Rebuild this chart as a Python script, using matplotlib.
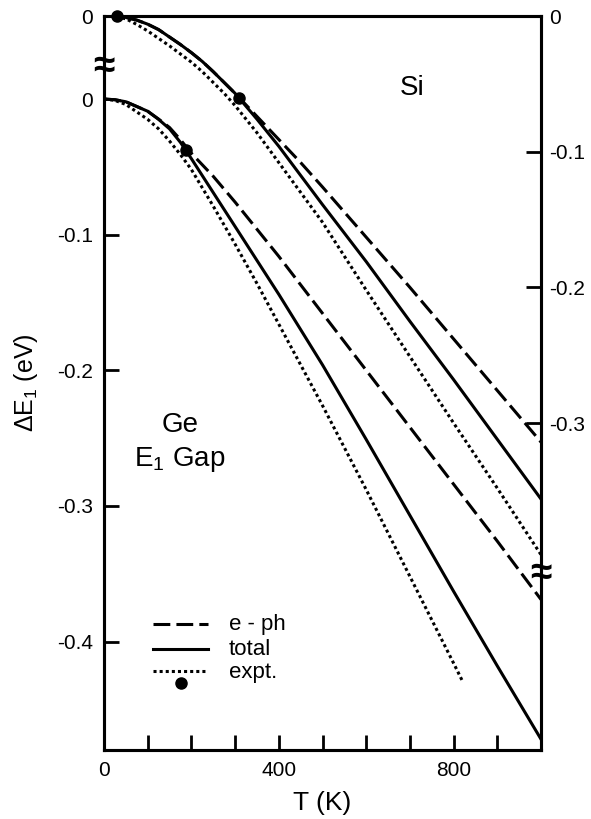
import numpy as np
import matplotlib.pyplot as plt

plt.rcParams['font.family'] = ['Liberation Sans', 'DejaVu Sans']
plt.rcParams['mathtext.fontset'] = 'custom'
plt.rcParams['mathtext.rm'] = 'Liberation Sans'
plt.rcParams['mathtext.it'] = 'Liberation Sans:italic'

# Ge, E1 gap (left axis, eV)
T_ge = [0, 25, 50, 75, 100, 125, 150, 175, 200, 250, 300, 350, 400, 450, 500,
        600, 700, 800, 900, 1000]
ge_eph = [0, -0.0005, -0.002, -0.0055, -0.009, -0.0148, -0.021, -0.030, -0.040, -0.057,
          -0.076, -0.096, -0.116, -0.137, -0.158, -0.200, -0.242, -0.284, -0.326, -0.369]
ge_total = [0, -0.0005, -0.002, -0.0055, -0.009, -0.015, -0.022, -0.032, -0.044, -0.069,
            -0.094, -0.119, -0.144, -0.170, -0.196, -0.251, -0.307, -0.363, -0.418, -0.472]
T_ge_expt = [0, 25, 50, 75, 100, 125, 150, 175, 200, 250, 300, 350, 400, 450, 500,
             550, 600, 650, 700, 750, 800, 820]
ge_expt = [0, -0.001, -0.004, -0.0095, -0.015, -0.022, -0.031, -0.041, -0.052, -0.079,
           -0.107, -0.136, -0.166, -0.196, -0.226, -0.257, -0.288, -0.320, -0.352,
           -0.384, -0.416, -0.429]
ge_dot_T = [187]
ge_dot_E = [-0.0377]

# Si (right axis, eV)
T_si = [0, 25, 50, 75, 100, 125, 150, 175, 200, 225, 250, 275, 300, 350, 400, 450,
        500, 600, 700, 800, 900, 1000]
si_eph = [0, 0, -0.001, -0.003, -0.006, -0.010, -0.0155, -0.021, -0.027, -0.0335,
          -0.041, -0.049, -0.057, -0.074, -0.091, -0.108, -0.126, -0.163, -0.200,
          -0.238, -0.276, -0.314]
si_total = [0, 0, -0.001, -0.003, -0.006, -0.010, -0.0155, -0.021, -0.027, -0.0335,
            -0.041, -0.049, -0.057, -0.076, -0.096, -0.1175, -0.139, -0.181, -0.225,
            -0.268, -0.312, -0.356]
si_expt = [0, -0.0005, -0.002, -0.0062, -0.011, -0.0165, -0.022, -0.028, -0.034, -0.041,
           -0.049, -0.057, -0.066, -0.086, -0.108, -0.130, -0.152, -0.202, -0.251,
           -0.300, -0.348, -0.397]
si_dot_T = [30, 309]
si_dot_E = [0, -0.0605]

x_ticks = list(range(0, 1001, 100))
x_labels = ['0', '', '', '', '400', '', '', '', '800', '', '']
ge_ticks = [-0.4, -0.3, -0.2, -0.1]
ge_labels = ['-0.4', '-0.3', '-0.2', '-0.1']
si_ticks = [0, -0.1, -0.2, -0.3]
si_labels = ['0', '-0.1', '-0.2', '-0.3']

lw = 2.2
dash = (0, (5.5, 2.0))
dot = (0, (1, 1))

fig = plt.figure(figsize=(5.91, 8.19), dpi=100)
ax = fig.add_axes([0.176, 0.0842, 0.7394, 0.8962])
ax2 = ax.twinx()

ax.plot(T_ge, ge_eph, color='k', lw=lw, linestyle=dash)
ax.plot(T_ge, ge_total, color='k', lw=lw)
ax.plot(T_ge_expt, ge_expt, color='k', lw=lw, linestyle=dot)
ax.plot(ge_dot_T, ge_dot_E, 'o', color='k', ms=8)

ax2.plot(T_si, si_eph, color='k', lw=lw, linestyle=dash)
ax2.plot(T_si, si_total, color='k', lw=lw)
ax2.plot(T_si, si_expt, color='k', lw=lw, linestyle=dot)
ax2.plot(si_dot_T, si_dot_E, 'o', color='k', ms=8, clip_on=False)

ax.set_xlim(0, 1000)
ax.set_ylim(-0.480, 0.0612)
ax2.set_ylim(-0.541, 0)

ax.set_xticks(x_ticks, labels=x_labels)
ax.set_yticks(ge_ticks, labels=ge_labels)
ax.set_yticks([0, 0.0612], labels=['0', '0'], minor=True)
ax.tick_params(axis='both', direction='in', length=11, width=2, labelsize=15, pad=8)
ax.tick_params(axis='y', which='minor', length=0, labelsize=15, pad=8)
ax2.set_yticks(si_ticks, labels=si_labels)
ax2.tick_params(axis='y', direction='in', length=11, width=2, labelsize=15, pad=6)

for a in (ax, ax2):
    for s in a.spines.values():
        s.set_linewidth(2.2)

# axis breaks
ax.text(0, 0.0236, '≈', fontsize=28, fontweight='bold', ha='center', va='center', clip_on=False)
ax2.text(1000, -0.411, '≈', fontsize=28, fontweight='bold', ha='center', va='center', clip_on=False)

ax.set_xlabel('T (K)', fontsize=19)
ax.xaxis.set_label_coords(0.5, -0.056)
ax.set_ylabel('ΔE$_1$ (eV)', fontsize=18)
ax.yaxis.set_label_coords(-0.146, 0.5)

ax2.text(705, -0.053, 'Si', fontsize=20, ha='center', va='center')
ax.text(0.174, 0.418, 'Ge\nE$_1$ Gap', transform=ax.transAxes, fontsize=20,
        ha='center', va='center', multialignment='center', linespacing=1.35)

# legend drawn by hand
tr = ax.transAxes
ax.plot([0.112, 0.238], [0.1717, 0.1717], transform=tr, color='k', lw=lw, linestyle=dash)
ax.plot([0.112, 0.238], [0.1376, 0.1376], transform=tr, color='k', lw=lw)
ax.plot([0.112, 0.238], [0.1076, 0.1076], transform=tr, color='k', lw=lw, linestyle=dot)
ax.plot([0.176], [0.0913], 'o', transform=tr, color='k', ms=8)
ax.text(0.286, 0.1717, 'e - ph', transform=tr, fontsize=16, va='center')
ax.text(0.286, 0.1376, 'total', transform=tr, fontsize=16, va='center')
ax.text(0.286, 0.1050, 'expt.', transform=tr, fontsize=16, va='center')

plt.savefig('out.png', dpi=100)
